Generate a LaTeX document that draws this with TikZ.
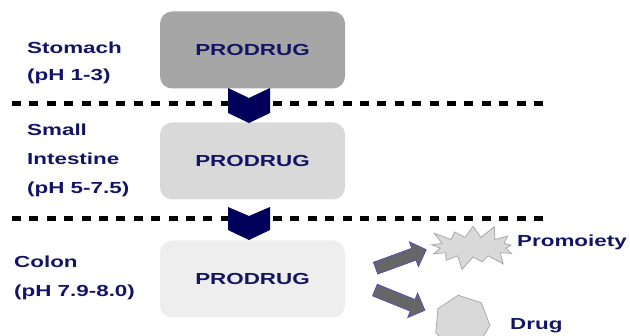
\documentclass[tikz,border=0pt]{standalone}
\usepackage{fontspec}
\newfontfamily\wfont[FakeStretch=1.4]{Liberation Sans}
\usepackage{xcolor}
\usetikzlibrary{positioning, shapes.arrows, shapes.symbols, shapes.geometric}
\definecolor{txtblue}{RGB}{20,20,100}
\definecolor{chevblue}{RGB}{0,0,90}
\definecolor{boxone}{RGB}{166,166,166}
\definecolor{boxtwo}{RGB}{217,217,217}
\definecolor{boxthree}{RGB}{238,238,238}
\definecolor{arrgray}{RGB}{102,102,102}
\definecolor{arrblue}{RGB}{70,70,200}
\definecolor{partfill}{RGB}{217,217,217}
\definecolor{partline}{RGB}{170,170,170}
\begin{document}
\begin{tikzpicture}[x=1pt,y=-1pt]
					\useasboundingbox (0,0) rectangle (630,336);
					\tikzstyle{lbl}=[text=txtblue, font=\wfont\bfseries\fontsize{16}{19}\selectfont, inner sep=0pt, anchor=base west]
					\tikzstyle{box}=[rounded corners=12pt, minimum width=185pt, minimum height=77pt, text=txtblue, font=\wfont\bfseries\fontsize{16}{19}\selectfont]
					\tikzstyle{chev}=[fill=chevblue]
					\tikzstyle{dots}=[line width=5pt, dash pattern=on 9pt off 8.4pt]
					\tikzstyle{blockarrow}=[single arrow, fill=arrgray, draw=arrblue, line width=0.6pt, minimum height=54pt, inner xsep=0pt, inner ysep=6pt, single arrow head extend=7pt]
					\tikzstyle{part}=[fill=partfill, draw=partline, line width=0.8pt]
					% boxes
					\node[box, fill=boxone](p1) at (252.5,50){PRODRUG};
					\node[box, fill=boxtwo](p2) at (252.5,161){PRODRUG};
					\node[box, fill=boxthree](p3) at (252.5,279){PRODRUG};
					% stages
					\node[lbl](s1) at (27,54){Stomach};
					\node[lbl](s2) at (27,81){(pH 1-3)};
					\node[lbl](i1) at (27,136){Small};
					\node[lbl](i2) at (27,165){Intestine};
					\node[lbl](i3) at (27,194){(pH 5-7.5)};
					\node[lbl](c1) at (14,268){Colon};
					\node[lbl](c2) at (14,297){(pH 7.9-8.0)};
					% separators
					\coordinate (d1w) at (12,104);
					\coordinate (d1e) at (548,104);
					\coordinate (d2w) at (12,219);
					\coordinate (d2e) at (548,219);
					\draw[dots] (d1w) -- (d1e);
					\draw[dots] (d2w) -- (d2e);
					% chevrons
					\fill[chev] (228,88) -- ++(21,10) -- ++(21,-10) -- ++(0,25) -- ++(-21,10) -- ++(-21,-10) -- cycle;
					\fill[chev] (228,207) -- ++(21,9) -- ++(21,-9) -- ++(0,23) -- ++(-21,10) -- ++(-21,-10) -- cycle;
					% products
					\node[blockarrow, rotate=20](a1) at (398,260){};
					\node[blockarrow, rotate=-22](a2) at (397,299){};
					\node[part, starburst, starburst points=13, starburst point height=15pt, minimum width=96pt, minimum height=50pt](pm) at (473,247){};
					\node[part, regular polygon, regular polygon sides=7, minimum size=56pt, rotate=8](dr) at (462,323){};
					\node[lbl](pml) at (517,247){Promoiety};
					\node[lbl](drl) at (510,330){Drug};
				\end{tikzpicture}
\end{document}
